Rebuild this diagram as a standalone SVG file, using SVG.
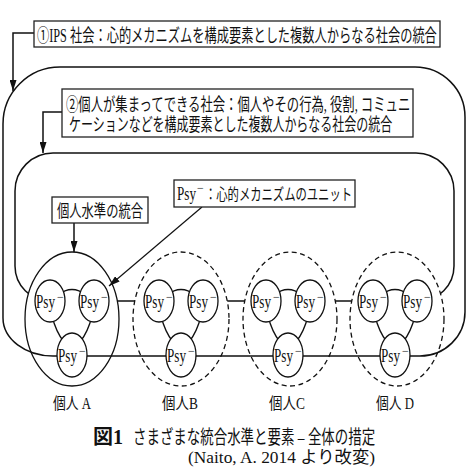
<svg xmlns="http://www.w3.org/2000/svg" width="469" height="469" viewBox="0 0 469 469">
<style>
.ln{fill:none;stroke:#111;stroke-width:1.5}
.box{fill:#fff;stroke:#222;stroke-width:1.3}
.big{fill:#fff;stroke:#111;stroke-width:1.3}
.dash{stroke-dasharray:5 3.5}
.psy{fill:#fff;stroke:#111;stroke-width:1.3}
.con{fill:none;stroke:#111;stroke-width:1.3}
.t{font-family:"Liberation Serif","Noto Sans CJK JP",serif;fill:#111}
.p{font-family:"Liberation Serif",serif;font-size:19px;fill:#111}
.m{font-family:"Liberation Serif",serif;font-size:12px;fill:#111}
</style>
<defs>
<marker id="ah" markerUnits="userSpaceOnUse" markerWidth="11" markerHeight="7" viewBox="0 0 11 7" refX="11" refY="3.5" orient="auto">
<path d="M0,0 L11,3.5 L0,7 z" fill="#111"/>
</marker>
</defs>
<rect width="469" height="469" fill="#fff"/>

<g id="society-individuals">
<path class="ln" d="M53 153 H416 A38 38 0 0 1 454 191 V266 A35 35 0 0 1 419 301 H50 A35 35 0 0 1 15 266 V191 A38 38 0 0 1 53 153 Z"/>
</g>

<g id="individual-ellipses">
<ellipse class="big" cx="72" cy="319" rx="47" ry="67"/>
<ellipse class="big dash" cx="181" cy="319" rx="48" ry="67"/>
<ellipse class="big dash" cx="290" cy="319" rx="47" ry="67"/>
<ellipse class="big dash" cx="397" cy="319" rx="47" ry="67"/>
</g>

<g id="society-ips">
<path class="ln" d="M60 67 H415 A50 50 0 0 1 465 117 V312 A45 44 0 0 1 420 356 H53 A50 38 0 0 1 3 318 V124 A57 57 0 0 1 60 67 Z"/>
</g>

<g id="connectors">
<path class="ln" d="M34 33 H13 V91" marker-end="url(#ah)"/>
<path class="ln" d="M62 112 H43 V153" marker-end="url(#ah)"/>
<path class="ln" d="M74 223 V252" marker-end="url(#ah)"/>
<path class="ln" style="stroke-width:1.2" d="M202 207 L109 286" marker-end="url(#ah)"/>
</g>

<g id="label-ips">
<rect class="box" x="34" y="21" width="406" height="26"/>
<text class="t" transform="translate(37,42) scale(0.68,1)" font-size="18" textLength="588" lengthAdjust="spacingAndGlyphs">①IPS 社会：心的メカニズムを構成要素とした複数人からなる社会の統合</text>
</g>

<g id="label-society">
<rect class="box" x="62" y="89" width="351" height="48"/>
<text class="t" transform="translate(66,111) scale(0.683,1)" font-size="18" textLength="504" lengthAdjust="spacingAndGlyphs">②個人が集まってできる社会：個人やその行為, 役割, コミュニ</text>
<text class="t" transform="translate(69,131) scale(0.665,1)" font-size="18" textLength="486" lengthAdjust="spacingAndGlyphs">ケーションなどを構成要素とした複数人からなる社会の統合</text>
</g>

<g id="label-individual-level">
<rect class="box" x="52" y="197" width="96" height="26"/>
<text class="t" transform="translate(57,217) scale(0.723,1)" font-size="17" textLength="119" lengthAdjust="spacingAndGlyphs">個人水準の統合</text>
</g>

<g id="label-psy">
<rect class="box" x="174" y="180" width="181" height="27"/>
<text class="p" transform="translate(177,200) scale(0.69,1)">Psy</text>
<text class="m" x="197" y="192">−</text>
<text class="t" transform="translate(205,200) scale(0.707,1)" font-size="16" textLength="208" lengthAdjust="spacingAndGlyphs">：心的メカニズムのユニット</text>
</g>

<g id="individual-A">
<path class="con" d="M58 295 Q72 284 86 295 M52 316 Q56 332 64 342 M92 316 Q88 332 80 342"/>
<g id="psy-A1"><ellipse class="psy" cx="50" cy="301" rx="15" ry="21"/><text class="p" transform="translate(36,308) scale(0.69,1)">Psy</text><text class="m" x="57" y="301">−</text></g>
<g id="psy-A2"><ellipse class="psy" cx="94" cy="301" rx="15" ry="21"/><text class="p" transform="translate(80,308) scale(0.69,1)">Psy</text><text class="m" x="101" y="301">−</text></g>
<g id="psy-A3"><ellipse class="psy" cx="72" cy="355" rx="15" ry="22"/><text class="p" transform="translate(58,362) scale(0.69,1)">Psy</text><text class="m" x="79" y="355">−</text></g>
<text class="t" transform="translate(72,409) scale(0.8,1)" font-size="16" text-anchor="middle">個人 A</text>
</g>

<g id="individual-B">
<path class="con" d="M167 295 Q181 284 195 295 M161 316 Q165 332 173 342 M201 316 Q197 332 189 342"/>
<g id="psy-B1"><ellipse class="psy" cx="159" cy="301" rx="15" ry="21"/><text class="p" transform="translate(145,308) scale(0.69,1)">Psy</text><text class="m" x="166" y="301">−</text></g>
<g id="psy-B2"><ellipse class="psy" cx="203" cy="301" rx="15" ry="21"/><text class="p" transform="translate(189,308) scale(0.69,1)">Psy</text><text class="m" x="210" y="301">−</text></g>
<g id="psy-B3"><ellipse class="psy" cx="181" cy="355" rx="15" ry="22"/><text class="p" transform="translate(167,362) scale(0.69,1)">Psy</text><text class="m" x="188" y="355">−</text></g>
<text class="t" transform="translate(180,409) scale(0.84,1)" font-size="16" text-anchor="middle">個人B</text>
</g>

<g id="individual-C">
<path class="con" d="M274 295 Q288 284 302 295 M268 316 Q272 332 280 342 M308 316 Q304 332 296 342"/>
<g id="psy-C1"><ellipse class="psy" cx="266" cy="301" rx="15" ry="21"/><text class="p" transform="translate(252,308) scale(0.69,1)">Psy</text><text class="m" x="273" y="301">−</text></g>
<g id="psy-C2"><ellipse class="psy" cx="310" cy="301" rx="15" ry="21"/><text class="p" transform="translate(296,308) scale(0.69,1)">Psy</text><text class="m" x="317" y="301">−</text></g>
<g id="psy-C3"><ellipse class="psy" cx="288" cy="355" rx="15" ry="22"/><text class="p" transform="translate(274,362) scale(0.69,1)">Psy</text><text class="m" x="295" y="355">−</text></g>
<text class="t" transform="translate(287,409) scale(0.84,1)" font-size="16" text-anchor="middle">個人C</text>
</g>

<g id="individual-D">
<path class="con" d="M381 295 Q395 284 409 295 M375 316 Q379 332 387 342 M415 316 Q411 332 403 342"/>
<g id="psy-D1"><ellipse class="psy" cx="373" cy="301" rx="15" ry="21"/><text class="p" transform="translate(359,308) scale(0.69,1)">Psy</text><text class="m" x="380" y="301">−</text></g>
<g id="psy-D2"><ellipse class="psy" cx="417" cy="301" rx="15" ry="21"/><text class="p" transform="translate(403,308) scale(0.69,1)">Psy</text><text class="m" x="424" y="301">−</text></g>
<g id="psy-D3"><ellipse class="psy" cx="395" cy="355" rx="15" ry="22"/><text class="p" transform="translate(381,362) scale(0.69,1)">Psy</text><text class="m" x="402" y="355">−</text></g>
<text class="t" transform="translate(395,409) scale(0.8,1)" font-size="16" text-anchor="middle">個人 D</text>
</g>

<g id="caption">
<text class="t" x="93" y="444" font-size="20" font-weight="bold">図1</text>
<text class="t" transform="translate(133,444) scale(0.708,1)" font-size="19" textLength="342" lengthAdjust="spacingAndGlyphs">さまざまな統合水準と要素 – 全体の措定</text>
<text class="t" x="188" y="463" font-size="17" textLength="187" lengthAdjust="spacingAndGlyphs">(Naito, A. 2014 より改変)</text>
</g>
</svg>
